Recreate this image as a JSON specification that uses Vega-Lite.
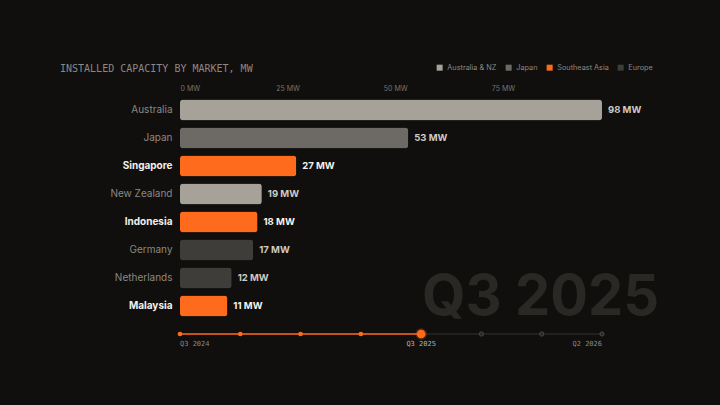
{
  "$schema": "https://vega.github.io/schema/vega-lite/v6.json",
  "width": 422,
  "height": 252,
  "autosize": {"type": "none"},
  "padding": {"left": 180, "top": 96, "right": 118, "bottom": 57},
  "background": "#100f0d",
  "config": {"view": {"stroke": null}, "font": "Inter"},
  "title": {
    "text": "INSTALLED CAPACITY BY MARKET, MW",
    "anchor": "start",
    "frame": "group",
    "dx": -120,
    "dy": 20,
    "font": "DejaVu Sans Mono",
    "fontSize": 10,
    "fontWeight": "normal",
    "color": "#8c8882",
    "offset": 10
  },
  "datasets": {
    "markets": [
      {"market": "Australia", "value": 98, "region": "Australia & NZ"},
      {"market": "Japan", "value": 53, "region": "Japan"},
      {"market": "Singapore", "value": 27, "region": "Southeast Asia"},
      {"market": "New Zealand", "value": 19, "region": "Australia & NZ"},
      {"market": "Indonesia", "value": 18, "region": "Southeast Asia"},
      {"market": "Germany", "value": 17, "region": "Europe"},
      {"market": "Netherlands", "value": 12, "region": "Europe"},
      {"market": "Malaysia", "value": 11, "region": "Southeast Asia"}
    ],
    "timeline": [
      {"quarter": "Q3 2024", "phase": "past"},
      {"quarter": "Q4 2024", "phase": "past"},
      {"quarter": "Q1 2025", "phase": "past"},
      {"quarter": "Q2 2025", "phase": "past"},
      {"quarter": "Q3 2025", "phase": "current"},
      {"quarter": "Q4 2025", "phase": "future"},
      {"quarter": "Q1 2026", "phase": "future"},
      {"quarter": "Q2 2026", "phase": "future"}
    ],
    "stamp": [{"label": "Q3 2025"}]
  },
  "layer": [
    {
      "layer": [
        {
          "data": {"name": "stamp"},
          "mark": {"type": "text", "align": "right", "baseline": "alphabetic", "font": "Inter", "fontWeight": "bold", "fontSize": 56, "color": "#2a2825", "dx": 57, "dy": 9},
          "encoding": {
            "x": {"datum": 98, "type": "quantitative"},
            "y": {"datum": "Malaysia", "type": "nominal"},
            "text": {"field": "label"}
          }
        },
        {
          "data": {"name": "markets"},
          "mark": {"type": "bar", "cornerRadius": 3},
          "encoding": {
            "x": {"field": "value", "type": "quantitative"},
            "y": {"field": "market", "type": "nominal"},
            "color": {
              "field": "region",
              "type": "nominal",
              "scale": {
                "domain": ["Australia & NZ", "Japan", "Southeast Asia", "Europe"],
                "range": ["#a6a29a", "#6d6a65", "#ff6b1c", "#3f3d3a"]
              },
              "legend": {
                "orient": "none",
                "legendX": 256,
                "legendY": -32,
                "direction": "horizontal",
                "title": null,
                "symbolType": "square",
                "symbolSize": 36,
                "symbolStrokeWidth": 0,
                "labelFontSize": 7.3,
                "labelColor": "#8c8882",
                "labelFont": "Inter",
                "columnPadding": 8,
                "labelOffset": 4
              }
            }
          }
        },
        {
          "data": {"name": "markets"},
          "transform": [{"calculate": "datum.value + ' MW'", "as": "lbl"}],
          "mark": {"type": "text", "align": "left", "baseline": "middle", "dx": 6, "fontWeight": "bold", "fontSize": 9.5, "font": "Inter"},
          "encoding": {
            "x": {"field": "value", "type": "quantitative"},
            "y": {"field": "market", "type": "nominal"},
            "text": {"field": "lbl", "type": "nominal"},
            "color": {"condition": {"test": "datum.region === 'Southeast Asia'", "value": "#f5f2ec"}, "value": "#cfcac2"}
          }
        }
      ],
      "encoding": {
        "x": {
          "type": "quantitative",
          "scale": {"domain": [0, 98], "nice": false},
          "axis": {
            "orient": "top",
            "values": [0, 25, 50, 75],
            "labelExpr": "datum.value + ' MW'",
            "domain": false,
            "ticks": false,
            "grid": false,
            "labelFontSize": 7,
            "labelColor": "#77736d",
            "labelPadding": 5,
            "title": null
          }
        },
        "y": {
          "type": "nominal",
          "scale": {
            "domain": ["Australia", "Japan", "Singapore", "New Zealand", "Indonesia", "Germany", "Netherlands", "Malaysia", " "],
            "paddingInner": 0.25,
            "paddingOuter": 0.125
          },
          "axis": {
            "title": null,
            "domain": false,
            "ticks": false,
            "labelPadding": 8,
            "labelFontSize": 10,
            "labelFont": "Inter",
            "labelColor": {"condition": {"test": "indexof(['Singapore','Indonesia','Malaysia'], datum.value) >= 0", "value": "#f3f0ea"}, "value": "#8c8882"},
            "labelFontWeight": {"condition": {"test": "indexof(['Singapore','Indonesia','Malaysia'], datum.value) >= 0", "value": "bold"}, "value": "normal"}
          }
        }
      }
    },
    {
      "data": {"name": "timeline"},
      "encoding": {
        "x": {
          "field": "quarter",
          "type": "ordinal",
          "scale": {"type": "point", "padding": 0, "domain": ["Q3 2024", "Q4 2024", "Q1 2025", "Q2 2025", "Q3 2025", "Q4 2025", "Q1 2026", "Q2 2026"]},
          "axis": null
        },
        "y": {"datum": " ", "type": "nominal"}
      },
      "layer": [
        {
          "transform": [{"filter": "datum.phase !== 'past'"}],
          "mark": {"type": "line", "color": "#34312e", "strokeWidth": 1.2}
        },
        {
          "transform": [{"filter": "datum.phase !== 'future'"}],
          "mark": {"type": "line", "color": "#ff6b1c", "strokeWidth": 1.5}
        },
        {
          "transform": [{"filter": "datum.phase === 'past'"}],
          "mark": {"type": "point", "filled": true, "color": "#ff6b1c", "size": 22, "opacity": 1}
        },
        {
          "transform": [{"filter": "datum.phase === 'future'"}],
          "mark": {"type": "point", "filled": true, "fill": "#2b2927", "stroke": "#4a4743", "strokeWidth": 1, "size": 18, "opacity": 1}
        },
        {
          "transform": [{"filter": "datum.phase === 'current'"}],
          "mark": {"type": "point", "filled": true, "color": "#ff6b1c", "size": 130, "opacity": 0.25}
        },
        {
          "transform": [{"filter": "datum.phase === 'current'"}],
          "mark": {"type": "point", "filled": true, "color": "#ff6b1c", "size": 75, "opacity": 1}
        },
        {
          "transform": [{"filter": "datum.quarter === 'Q3 2024'"}],
          "mark": {"type": "text", "align": "left", "baseline": "middle", "dy": 10, "font": "DejaVu Sans Mono", "fontSize": 7, "color": "#8c8882"},
          "encoding": {"text": {"field": "quarter"}}
        },
        {
          "transform": [{"filter": "datum.quarter === 'Q3 2025'"}],
          "mark": {"type": "text", "align": "center", "baseline": "middle", "dy": 10, "font": "DejaVu Sans Mono", "fontSize": 7, "color": "#b5b1aa"},
          "encoding": {"text": {"field": "quarter"}}
        },
        {
          "transform": [{"filter": "datum.quarter === 'Q2 2026'"}],
          "mark": {"type": "text", "align": "right", "baseline": "middle", "dy": 10, "font": "DejaVu Sans Mono", "fontSize": 7, "color": "#8c8882"},
          "encoding": {"text": {"field": "quarter"}}
        }
      ]
    }
  ],
  "resolve": {"scale": {"x": "independent"}, "axis": {"x": "independent"}}
}
